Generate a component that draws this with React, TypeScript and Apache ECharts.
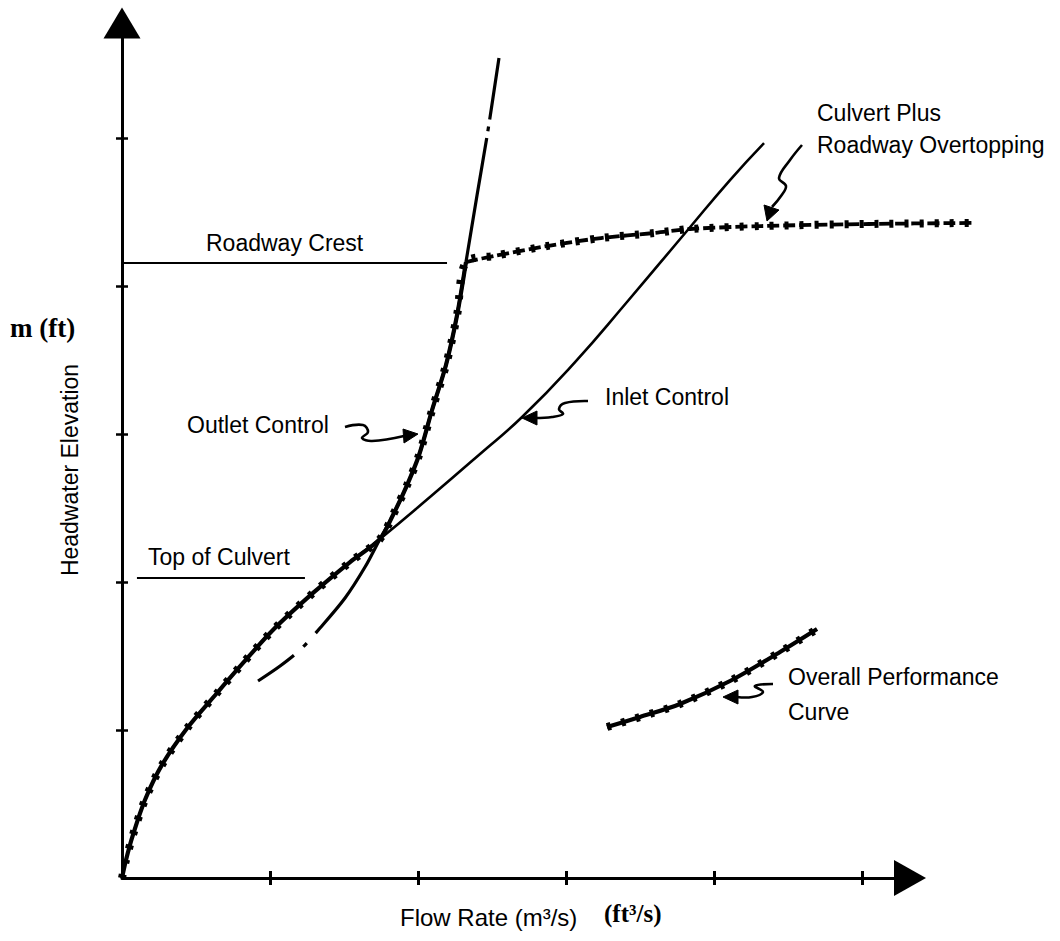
import React, { useEffect, useRef } from "react";
import * as echarts from "echarts";

// Values in axis units (one unit = one tick spacing)
const inletControl: number[][] = [
  [0, 0], [0.027, 0.122], [0.074, 0.291], [0.155, 0.527], [0.27, 0.764],
  [0.446, 1.02], [0.642, 1.25], [0.818, 1.453], [1.02, 1.676], [1.291, 1.926],
  [1.541, 2.135], [1.743, 2.291], [2.081, 2.574], [2.419, 2.865], [2.703, 3.115],
  [3.061, 3.486], [3.412, 3.892], [3.811, 4.365], [4.108, 4.716], [4.338, 4.966],
];
const inletCrossIndex = 11;

const outletControl: number[][] = [
  [0.919, 1.331], [1.068, 1.432], [1.203, 1.541], [1.338, 1.689], [1.507, 1.892],
  [1.642, 2.101], [1.743, 2.291], [1.831, 2.453], [1.926, 2.655], [2.007, 2.858],
  [2.095, 3.162], [2.189, 3.466], [2.264, 3.804], [2.324, 4.162], [2.399, 4.615],
  [2.473, 5.054], [2.547, 5.541],
];
const outletCrossIndex = 6;
const outletCrestIndex = 13;

const overtopping: number[][] = [
  [2.324, 4.162], [2.514, 4.203], [2.872, 4.27], [3.236, 4.324], [3.595, 4.358],
  [3.838, 4.385], [4.318, 4.405], [5.047, 4.419], [5.75, 4.426],
];

const roadwayCrest: number[][] = [[0, 4.155], [2.196, 4.155]];
const topOfCulvert: number[][] = [[0.101, 2.027], [1.236, 2.027]];

const legendCurve: number[][] = [
  [3.277, 1.02], [3.5, 1.088], [3.77, 1.176], [4.108, 1.331], [4.446, 1.527], [4.696, 1.682],
];

const xTicks = [1, 2, 3, 4, 5];
const yTicks = [1, 2, 3, 4, 5];
const xAxisEnd = 5.324; // where the drawn x axis (with its arrow) ends
const xDataMax = 6.0; // plotting area continues to the right of the arrow
const yMax = 5.777;

const SANS = '"Liberation Sans", Arial, Helvetica, sans-serif';
const SERIF = '"Liberation Serif", "Times New Roman", serif';

export default function App() {
  const ref = useRef<HTMLDivElement>(null);

  useEffect(() => {
    if (!ref.current) return;
    const chart = echarts.init(ref.current, undefined, { renderer: "svg" });

    const overallBase = inletControl
      .slice(0, inletCrossIndex + 1)
      .concat(outletControl.slice(outletCrossIndex + 1, outletCrestIndex + 1));
    const overallAll = overallBase.concat(overtopping.slice(1));

    const black = "#000000";
    const L = 122, T = 23, B = 63;
    const unitPx = (1060 - L - 150) / xAxisEnd;
    const dataRight = 1060 - L - unitPx * xDataMax;

    const hiddenAxis = { type: "value" as const, show: false };
    const tickAxis = (dim: "x" | "y", inside: boolean, withLine: boolean) => ({
      type: "value" as const,
      gridIndex: 1,
      min: 0,
      max: dim === "x" ? xAxisEnd : yMax,
      interval: 1,
      position: dim === "x" ? "bottom" : "left",
      axisLabel: { show: false },
      splitLine: { show: false },
      axisLine: withLine
        ? {
            show: true,
            onZero: false,
            symbol: ["none", "triangle"],
            symbolSize: dim === "x" ? [36, 32] : [37, 31],
            lineStyle: { color: black, width: 3 },
          }
        : { show: false },
      axisTick: {
        show: true,
        inside,
        length: dim === "x" ? 7 : 6,
        customValues: dim === "x" ? xTicks : yTicks,
        lineStyle: { color: black, width: dim === "x" ? 3 : 2.5 },
      },
    });

    const lineSeries = (data: number[][], lineStyle: any, z = 2, smooth: number | boolean = 0.3) => ({
      type: "line",
      data,
      symbol: "none",
      showSymbol: false,
      smooth,
      clip: false,
      silent: true,
      z,
      lineStyle: { color: black, ...lineStyle },
    });

    const text = (t: string, x: number, y: number, extra: any = {}) => ({
      type: "text",
      x,
      y,
      z: 100,
      silent: true,
      style: {
        text: t,
        font: `23px ${SANS}`,
        fill: black,
        textAlign: "left",
        textVerticalAlign: "middle",
        ...extra,
      },
    });

    const leader = (pts: number[][]) => ({
      type: "polyline",
      z: 100,
      silent: true,
      shape: { points: pts, smooth: 0.4 },
      style: { stroke: black, lineWidth: 2.6, fill: "none" },
    });
    const head = (pts: number[][]) => ({
      type: "polygon",
      z: 100,
      silent: true,
      shape: { points: pts },
      style: { fill: black, stroke: black, lineWidth: 1 },
    });

    const bumps = { width: 8, type: [4, 11], cap: "butt" };

    const option: any = {
      animation: false,
      backgroundColor: "#ffffff",
      grid: [
        { left: L, right: dataRight, top: T, bottom: B, containLabel: false },
        { left: L, right: 150, top: T, bottom: B, containLabel: false },
      ],
      xAxis: [
        { ...hiddenAxis, gridIndex: 0, min: 0, max: xDataMax },
        tickAxis("x", false, true),
        tickAxis("x", true, false),
      ],
      yAxis: [
        { ...hiddenAxis, gridIndex: 0, min: 0, max: yMax },
        tickAxis("y", false, true),
        tickAxis("y", true, false),
      ],
      series: [
        lineSeries(roadwayCrest, { width: 2 }, 2, false),
        lineSeries(topOfCulvert, { width: 2 }, 2, false),
        lineSeries(inletControl, { width: 2.6 }, 2, 0.5),
        lineSeries(outletControl, {
          width: 3.2,
          cap: "butt",
          type: [44, 13, 5, 13, 173, 12, 5, 12, 330, 7, 5, 7, 400],
        }),
        lineSeries(overallBase, { width: 4.2 }, 3),
        lineSeries(overtopping, { width: 3.8, type: [12, 4] }, 3),
        lineSeries(overallAll, bumps, 4),
        lineSeries(legendCurve, { width: 4.2 }, 3),
        lineSeries(legendCurve, bumps, 4),
      ],
      graphic: [
        text("Roadway Crest", 206, 243),
        text("Top of Culvert", 148, 557),
        text("Outlet Control", 187, 425),
        text("Inlet Control", 605, 397),
        text("Culvert Plus", 817, 113),
        text("Roadway Overtopping", 817, 145),
        text("Overall Performance", 788, 677),
        text("Curve", 788, 712),
        {
          type: "text",
          x: 70,
          y: 470,
          rotation: Math.PI / 2,
          z: 100,
          silent: true,
          style: {
            text: "Headwater Elevation",
            font: `23px ${SANS}`,
            fill: black,
            textAlign: "center",
            textVerticalAlign: "middle",
          },
        },
        text("m (ft)", 10, 328, { font: `bold 27px ${SERIF}` }),
        text("Flow Rate (m³/s)", 400, 917, { font: `24px ${SANS}` }),
        text("(ft³/s)", 604, 913, { font: `bold 25px ${SERIF}` }),
        // leaders
        leader([[345, 427], [363, 425], [368, 432], [362, 438], [372, 441], [404, 436]]),
        head([[418, 434], [403, 429], [404, 443]]),
        leader([[588, 401], [565, 403], [559, 409], [563, 414], [552, 417], [535, 418]]),
        head([[522, 418], [537, 411], [537, 425]]),
        leader([[802, 145], [790, 160], [779, 178], [786, 186], [781, 196], [772, 207]]),
        head([[767, 221], [764, 205], [779, 210]]),
        leader([[773, 684], [755, 686], [763, 692], [752, 697], [737, 697]]),
        head([[723, 697], [738, 690], [738, 704]]),
      ],
    };

    chart.setOption(option);
    return () => chart.dispose();
  }, []);

  return (
    <div
      ref={ref}
      style={{ position: "absolute", left: 0, top: 0, width: 1060, height: 941, background: "#fff" }}
    />
  );
}
